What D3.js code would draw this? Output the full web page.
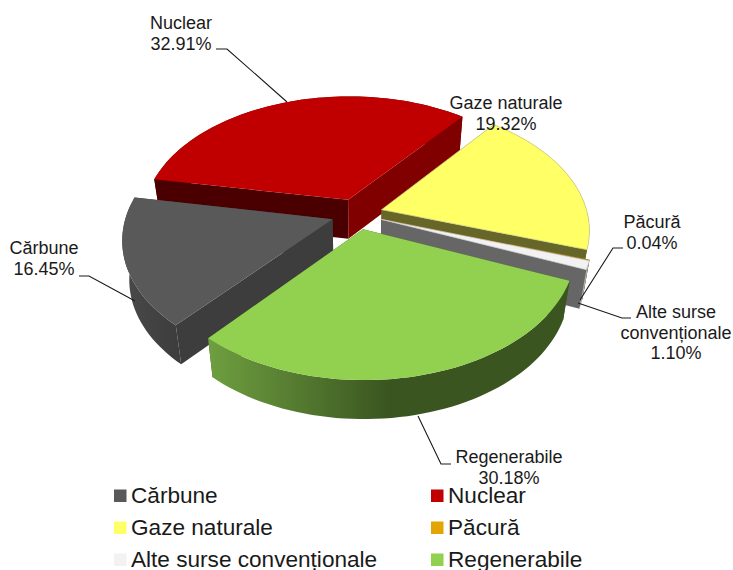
<!DOCTYPE html>
<html>
<head>
<meta charset="utf-8">
<script src="https://cdn.jsdelivr.net/npm/d3@7"></script>
<style>
  html, body { margin: 0; padding: 0; background: #fff; overflow: hidden; }
  svg { display: block; }
  text { font-family: "Liberation Sans", Arial, sans-serif; fill: #1a1a1a; }
</style>
</head>
<body>
<svg id="chart" width="733" height="570"></svg>
<script>
const categories = ["Cărbune", "Nuclear", "Gaze naturale", "Păcură", "Alte surse convenționale", "Regenerabile"];
const shares = [16.45, 32.91, 19.32, 0.04, 1.10, 30.18];
const topColors = ["#595959", "#c00000", "#ffff66", "#e3a600", "#f2f2f2", "#92d050"];
const topEdges = ["none", "none", "#cfc98a", "none", "#d0d0d0", "none"];
const cutColors = ["#3d3d3d", "#800000", "#666628", "#8a6500", "#666666", "#3a5520"];
const backCutColors = ["#3d3d3d", "#4a0000", "#666628", "#8a6500", "#666666", "#3a5520"];
const rimStart = ["#4a4a4a", "#800000", "#99993d", "#8a6500", "#b0b0b0", "#6f9f40"];
const rimEnd = ["#3d3d3d", "#5a0000", "#666628", "#8a6500", "#909090", "#3a5520"];

// back to front, the order the slices overlap in
const drawOrder = [1, 2, 3, 4, 0, 5];

const labelLines = [
  ["Cărbune", "16.45%"],
  ["Nuclear", "32.91%"],
  ["Gaze naturale", "19.32%"],
  ["Păcură", "0.04%"],
  ["Alte surse", "convenționale", "1.10%"],
  ["Regenerabile", "30.18%"]
];
const labelAnchors = [[44, 254], [181, 29], [506, 109], [652, 228], [676, 318], [509, 463]];
const leaders = [
  [[79, 276], [89, 276], [135, 301]],
  [[216, 49], [227, 49], [287, 102]],
  [],
  [[623, 248], [613, 248], [580, 300]],
  [[631, 318], [622, 318], [578, 303]],
  [[451, 464], [441, 464], [418, 416]]
];

const cx = 357, cy = 214;
const radiusX = 206, radiusY = 123, persp = 0.151;
const explode = 0.125;
const depth = 39, floorShrink = 0.97;

// ground plane -> screen, things nearer the viewer come out bigger
function project(u, v) {
  const w = 1 - persp * v;
  return [cx + radiusX * u / w, cy + radiusY * v / w];
}
function drop(p) {
  return [cx + (p[0] - cx) * floorShrink, p[1] + depth];
}

const svg = d3.select("#chart");
const defs = svg.append("defs");
const line = d3.line();

const pie = d3.pie().sort(null)
  .startAngle(221 * Math.PI / 180)
  .endAngle((221 + 360) * Math.PI / 180);
const slices = pie(shares);

function sliceGeom(s) {
  const mid = (s.startAngle + s.endAngle) / 2;
  const ox = explode * Math.sin(mid), oy = -explode * Math.cos(mid);
  const steps = Math.max(2, Math.ceil((s.endAngle - s.startAngle) * 30));
  const arc = d3.range(steps + 1).map(i => {
    const a = s.startAngle + (s.endAngle - s.startAngle) * i / steps;
    return project(ox + Math.sin(a), oy - Math.cos(a));
  });
  return { apex: project(ox, oy), arc, atBack: Math.cos(mid) > 0 };
}

const pieGroup = svg.append("g");

drawOrder.forEach(i => {
  const { apex, arc, atBack } = sliceGeom(slices[i]);
  const g = pieGroup.append("g").attr("class", "slice");
  const first = arc[0], last = arc[arc.length - 1];

  // outer rim, shaded from left to right
  const xs = d3.extent(arc, p => p[0]);
  const id = "rim" + i;
  const grad = defs.append("linearGradient").attr("id", id)
    .attr("gradientUnits", "userSpaceOnUse")
    .attr("x1", xs[0]).attr("x2", i === 5 ? (xs[0] + xs[1]) / 2 : xs[1])
    .attr("y1", 0).attr("y2", 0);
  grad.append("stop").attr("offset", 0).attr("stop-color", rimStart[i]);
  grad.append("stop").attr("offset", 1).attr("stop-color", rimEnd[i]);
  const drawRim = () => g.append("path")
    .attr("d", line(arc.concat(arc.map(drop).reverse())) + "Z")
    .attr("fill", `url(#${id})`);

  // slices at the back hide their rim behind the flat cut faces
  if (atBack) drawRim();
  g.append("path")
    .attr("d", line([apex, first, drop(first), drop(apex)]) + "Z")
    .attr("fill", i === 0 ? cutColors[i] : backCutColors[i]);
  g.append("path")
    .attr("d", line([apex, last, drop(last), drop(apex)]) + "Z")
    .attr("fill", cutColors[i]);
  if (!atBack) drawRim();

  // top face
  g.append("path")
    .attr("d", line([apex].concat(arc)) + "Z")
    .attr("fill", topColors[i])
    .attr("stroke", topEdges[i])
    .attr("stroke-width", 0.7);
});

// leader lines
const leaderGroup = svg.append("g");
leaders.filter(l => l.length).forEach(l => {
  leaderGroup.append("path")
    .attr("d", line(l))
    .attr("fill", "none")
    .attr("stroke", "#1a1a1a")
    .attr("stroke-width", 1.1);
});

// data labels
labelLines.forEach((lines, i) => {
  const t = svg.append("text")
    .attr("text-anchor", "middle")
    .attr("font-size", 18);
  lines.forEach((s, j) => {
    t.append("tspan")
      .attr("x", labelAnchors[i][0])
      .attr("y", labelAnchors[i][1] + j * 20.7)
      .text(s);
  });
});

// legend, two columns of three rows
const legendX = d3.scalePoint().domain([0, 1]).range([114, 431]);
const legendY = d3.scalePoint().domain([0, 1, 2]).range([503, 567]);
const legend = svg.append("g");
categories.forEach((name, i) => {
  const col = i % 2, row = Math.floor(i / 2);
  legend.append("rect")
    .attr("x", legendX(col)).attr("y", legendY(row) - 13.5)
    .attr("width", 12.5).attr("height", 12.5)
    .attr("fill", topColors[i]);
  legend.append("text")
    .attr("x", legendX(col) + 17)
    .attr("y", legendY(row))
    .attr("font-size", 22.6)
    .text(name);
});
</script>
</body>
</html>
